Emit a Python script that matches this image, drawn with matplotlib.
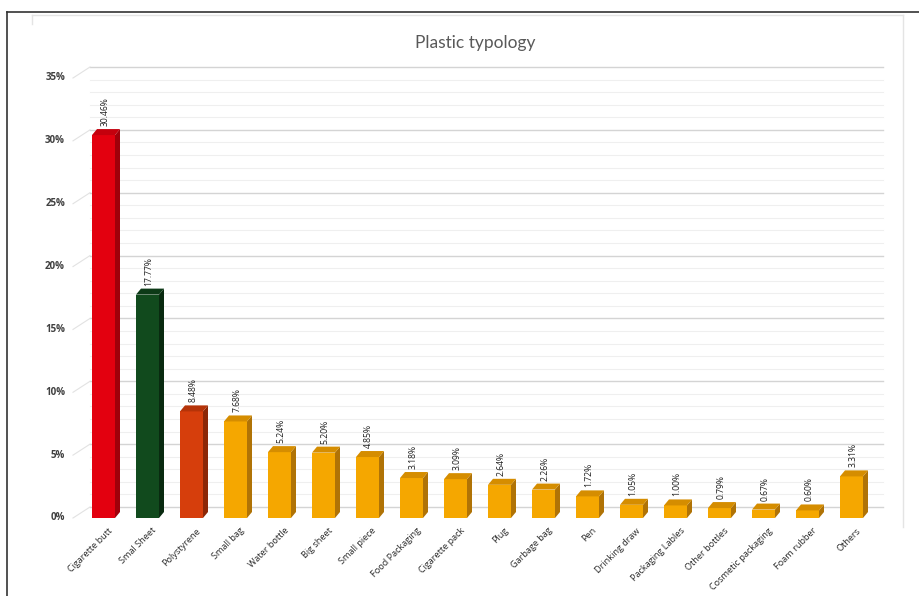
import matplotlib
matplotlib.use("Agg")
import matplotlib.pyplot as plt
from matplotlib.patches import Polygon
from matplotlib.lines import Line2D
import matplotlib.transforms as mtransforms

plt.rcParams['font.family'] = ['Lato', 'DejaVu Sans']

categories = ["Cigarette butt", "Smal Sheet", "Polystyrene", "Small bag", "Water bottle",
              "Big sheet", "Small piece", "Food Packaging", "Cigarette pack", "Plug",
              "Garbage bag", "Pen", "Drinking draw", "Packaging Lables", "Other bottles",
              "Cosmetic packaging", "Foam rubber", "Others"]
values = [30.46, 17.77, 8.48, 7.68, 5.24, 5.20, 4.85, 3.18, 3.09, 2.64,
          2.26, 1.72, 1.05, 1.00, 0.79, 0.67, 0.60, 3.31]
value_labels = ["30.46%", "17.77%", "8.48%", "7.68%", "5.24%", "5.20%", "4.85%", "3.18%",
                "3.09%", "2.64%", "2.26%", "1.72%", "1.05%", "1.00%", "0.79%", "0.67%",
                "0.60%", "3.31%"]
y_ticks = [0, 5, 10, 15, 20, 25, 30, 35]

# front / side / top shades for each bar group
shade_red = ("#E3000F", "#A0000A", "#C4000D")
shade_green = ("#114A1D", "#092A10", "#0D3A17")
shade_rust = ("#D63E0C", "#8C2707", "#B53308")
shade_gold = ("#F5A700", "#B07306", "#D58D00")
bar_shades = [shade_red, shade_green, shade_rust] + [shade_gold] * 15

label_font = ['Open Sans', 'DejaVu Sans']

W, H = 919, 596
fig = plt.figure(figsize=(W / 100, H / 100), dpi=100)

# axes laid out in pixel terms: first bar centre at 103.5 px, 44 px per category,
# 0% at 518 px and 35% at 78 px from the top
px_per_cat = 44.0
left_px, right_px = 59.5, 883.0
x0 = -(103.5 - left_px) / px_per_cat
x1 = (right_px - 103.5) / px_per_cat
bot_px, top_px = 518.0, 78.0
ax = fig.add_axes([left_px / W, (H - bot_px) / H, (right_px - left_px) / W, (bot_px - top_px) / H])
ax.set_xlim(x0, x1)
ax.set_ylim(0, 35)
ax.axis("off")

px_per_pct = (bot_px - top_px) / 35.0
dx_px, dy_px = 5.0, 6.0
dx = dx_px / px_per_cat
dy = dy_px / px_per_pct
bar_w = 23.0 / px_per_cat

# back wall gridlines, offset up/right from the front plane
wall_dx = (90 - 73) / px_per_cat
wall_dy = 11.0 / px_per_pct
front_x = (73 - 103.5) / px_per_cat
for v in range(0, 36):
    major = v % 5 == 0
    col = "#d4d4d4" if major else "#efefef"
    ax.add_line(Line2D([front_x + wall_dx, x1], [v + wall_dy, v + wall_dy],
                       color=col, lw=1.0 if major else 0.8, zorder=1, clip_on=False))
    if major:
        ax.add_line(Line2D([front_x, front_x + wall_dx], [v, v + wall_dy],
                           color="#e2e2e2", lw=0.8, zorder=1, clip_on=False))

# bars: front face via ax.bar, then side and top faces
for i, (v, sh) in enumerate(zip(values, bar_shades)):
    front, side, top = sh
    ax.bar(i, v, width=bar_w, color=front, edgecolor="none", zorder=3)
    xl, xr = i - bar_w / 2, i + bar_w / 2
    ax.add_patch(Polygon([(xr, 0), (xr + dx, dy), (xr + dx, v + dy), (xr, v)],
                         closed=True, facecolor=side, edgecolor="none", zorder=3))
    ax.add_patch(Polygon([(xl, v), (xr, v), (xr + dx, v + dy), (xl + dx, v + dy)],
                         closed=True, facecolor=top, edgecolor="none", zorder=3))
    ax.text(i + 0.03, v + dy + 3.0 / px_per_pct, value_labels[i], rotation=90,
            ha="center", va="bottom", fontsize=6.2, color="#1e1e1e", zorder=4,
            family=label_font)
    ax.text(i + 0.1, -8.0 / px_per_pct, categories[i], rotation=45, rotation_mode="anchor",
            ha="right", va="top", fontsize=6.6, color="#2a2a2a", family=label_font)

# y tick labels
for t in y_ticks:
    ax.text((65 - 103.5) / px_per_cat, t, f"{t}%", ha="right", va="center",
            fontsize=7, fontweight="bold", color="#404040", family=label_font)

fig.text(475 / W, 1 - 43 / H, "Plastic typology", ha="center", va="center",
         fontsize=12.5, color="#595959")

# frame lines around the chart
pix = mtransforms.Affine2D().scale(1, -1).translate(0, H)
fig.add_artist(Line2D([7, W], [12, 12], color="#333333", lw=1.2, transform=pix))
fig.add_artist(Line2D([7, 7], [12, H], color="#333333", lw=1.2, transform=pix))
fig.add_artist(Line2D([32, 903], [15, 15], color="#e4e4e4", lw=1.0, transform=pix))
fig.add_artist(Line2D([903, 903], [15, 527], color="#e4e4e4", lw=1.0, transform=pix))
fig.add_artist(Line2D([32, 32], [15, 24], color="#e4e4e4", lw=1.0, transform=pix))

fig.savefig("out.png", dpi=100, facecolor="white")
